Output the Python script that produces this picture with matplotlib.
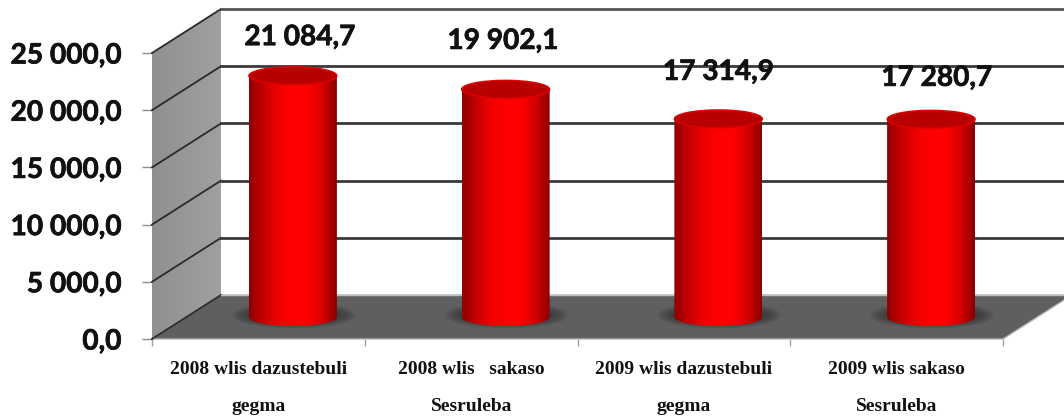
import numpy as np
import matplotlib
matplotlib.use('Agg')
import matplotlib.pyplot as plt
from matplotlib.colors import LinearSegmentedColormap
from matplotlib.patches import Polygon, Ellipse, PathPatch
from matplotlib.path import Path
import matplotlib.patheffects as pe

categories = ['2008 wlis dazustebuli\ngegma', '2008 wlis   sakaso\nSesruleba',
              '2009 wlis dazustebuli\ngegma', '2009 wlis sakaso\nSesruleba']
values = [21084.7, 19902.1, 17314.9, 17280.7]
value_labels = ['21 084,7', '19 902,1', '17 314,9', '17 280,7']
y_ticks = [0, 5000, 10000, 15000, 20000, 25000]
y_tick_labels = ['0,0', '5 000,0', '10 000,0', '15 000,0', '20 000,0', '25 000,0']

# label shift from the top of each bar, in points
label_shift = [(5, 12), (-2, 19), (0, 18), (4, 14)]

W, H = 1064, 420
fig = plt.figure(figsize=(W / 100, H / 100), dpi=100)
ax = fig.add_axes([152 / W, (H - 339) / H, 851 / W, 286 / H])
ax.set_facecolor('none')
for s in ax.spines.values():
    s.set_visible(False)

# pixel sizes turned into data units
ux = 212.75
uy = 286 / 25000
dx = 69 / ux
dy = 44 / uy
x0, x1 = -0.5, 3.5

# heavier look for the big numbers
heavy = [pe.withStroke(linewidth=0.5, foreground='#111111')]

# left wall
wall = np.linspace(0, 1, 64).reshape(1, -1)
wall_cmap = LinearSegmentedColormap.from_list('wall', ['#909090', '#a0a0a0'])
im = ax.imshow(wall, cmap=wall_cmap, extent=[x0, x0 + dx, 0, 25000 + dy], aspect='auto', zorder=1)
wall_poly = Polygon([[x0, 0], [x0 + dx, dy], [x0 + dx, 25000 + dy], [x0, 25000]], closed=True,
                    transform=ax.transData, fc='none', ec='none')
ax.add_patch(wall_poly)
im.set_clip_box(fig.bbox)
im.set_clip_path(wall_poly)

# floor
ax.add_patch(Polygon([[x0, 0], [x0 + dx, dy], [x1 + dx, dy], [x1, 0]], closed=True,
                     fc='#5f5f5f', ec='#b5b5b5', lw=1, zorder=1, clip_on=False))

# gridlines on both walls
for t in y_ticks:
    grid_col = '#3a3a3a' if t < 25000 else '#555555'
    ax.plot([x0, x0 + dx], [t, t + dy], color='#2a2a2a', lw=1.3, zorder=2, clip_on=False)
    if t > 0:
        ax.plot([x0 + dx, x1 + dx], [t + dy, t + dy], color=grid_col, lw=2, zorder=2, clip_on=False)
    else:
        ax.plot([x0 + dx, x1 + dx], [t + dy, t + dy], color='#bdbdbd', lw=1, zorder=2, clip_on=False)

# cylinders
half_w = 44 / ux
ry = 9 / uy
mid_x = dx / 2
mid_y = dy / 2
bar_cmap = LinearSegmentedColormap.from_list(
    'bar', ['#8e0000', '#c80000', '#f00000', '#ff0000', '#ff0000', '#d80000', '#8a0000'])
theta = np.linspace(np.pi, 2 * np.pi, 60)

for i, v in enumerate(values):
    cx = i + mid_x
    top = v + mid_y
    # shadow on the floor
    for k in range(16):
        f = 1.42 - k * 0.03
        ax.add_patch(Ellipse((cx + 0.005, mid_y + 0.2 * ry), 2 * half_w * f, 2 * ry * (1.5 - k * 0.05),
                             fc='#2a2a2a', ec='none', alpha=0.06, zorder=3))
    xs = np.concatenate([[cx - half_w], cx + half_w * np.cos(theta), [cx + half_w],
                         [cx + half_w, cx - half_w]])
    ys = np.concatenate([[mid_y], mid_y + ry * np.sin(theta), [mid_y], [top, top]])
    body = PathPatch(Path(np.column_stack([xs, ys])), fc='none', ec='none', transform=ax.transData)
    ax.add_patch(body)
    grad = ax.imshow(np.linspace(0, 1, 128).reshape(1, -1), cmap=bar_cmap, aspect='auto', zorder=4,
                     extent=[cx - half_w, cx + half_w, 0, top + ry])
    grad.set_clip_path(body)
    ax.add_patch(Ellipse((cx, top), 2 * half_w, 2 * ry, fc='#b90000', ec='#e00000', lw=1, zorder=5))
    ax.annotate(value_labels[i], (cx, top + ry), xytext=label_shift[i], textcoords='offset points',
                ha='center', va='bottom', fontsize=20.2, fontweight='bold', family='Lato',
                color='#111111', zorder=6, annotation_clip=False, path_effects=heavy)

ax.set_xlim(x0, x1)
ax.set_ylim(0, 25000)

ax.set_yticks(y_ticks)
ax.set_yticklabels(y_tick_labels, fontsize=20.2, fontweight='bold', family='Lato', color='#111111',
                   path_effects=heavy)
ax.tick_params(axis='y', length=7, width=1, color='#8c8c8c', pad=15)

ax.set_xticks(np.arange(x0, x1 + 0.5, 1))
ax.set_xticklabels([])
ax.set_xticks(np.arange(len(categories)), minor=True)
ax.set_xticklabels(categories, minor=True, fontsize=14, family='Liberation Serif', fontweight='bold',
                   linespacing=2.55, color='#111111')
ax.tick_params(axis='x', which='major', length=5, width=1, color='#a0a0a0')
ax.tick_params(axis='x', which='minor', length=0, pad=16)

fig.savefig('out.png', dpi=100, facecolor='white')
